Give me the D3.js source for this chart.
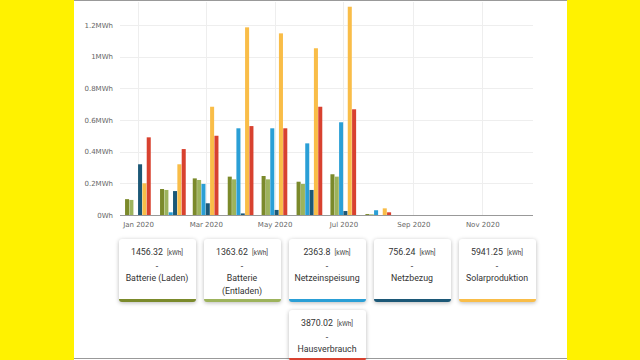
<!DOCTYPE html>
<html>
<head>
<meta charset="utf-8">
<script src="https://cdn.jsdelivr.net/npm/d3@7"></script>
<style>
    body { margin: 0; width: 640px; height: 360px; background: #fff200; overflow: hidden; font-family: Roboto, sans-serif; }
    #panel { position: absolute; left: 74px; top: 0; width: 493px; height: 360px; background: #fff; }
    #chart { position: absolute; left: 0; top: 0; }
    #cards { position: absolute; left: 118px; top: 239px; width: 418px; display: flex; flex-wrap: wrap; justify-content: center; gap: 8px 8px; }
    .card { box-sizing: border-box; width: 77px; padding: 7px 5px 2px; background: #fff; border-radius: 3px;
        box-shadow: 0 1px 4px rgba(0, 0, 0, 0.28); text-align: center; color: #333; font-size: 8.8px; line-height: 12.5px; }
    .card .unit { font-size: 6.5px; margin-left: 4px; color: #444; }
</style>
</head>
<body>
<div id="panel"></div>
<svg id="chart" width="640" height="360"></svg>
<div id="cards"></div>
<script>
    // monthly energy per series, kWh
    const months = ["2020-01", "2020-02", "2020-03", "2020-04", "2020-05", "2020-06", "2020-07", "2020-08"];
    const seriesNames = ["Batterie (Laden)", "Batterie (Entladen)", "Netzeinspeisung", "Netzbezug", "Solarproduktion", "Hausverbrauch"];
    const seriesColors = ["#7b8a2b", "#9db35c", "#2a9fd6", "#1c5877", "#f9bd48", "#d8412f"];
    const batterieLaden = [100, 164, 231, 242, 246, 210, 257, 6];
    const batterieEntladen = [95, 158, 221, 225, 225, 196, 242, 4];
    const netzeinspeisung = [0, 17, 196, 547, 547, 452, 585, 30];
    const netzbezug = [320, 151, 74, 10, 32, 158, 25, 0];
    const solarproduktion = [200, 320, 683, 1184, 1146, 1052, 1314, 42];
    const hausverbrauch = [490, 416, 500, 561, 547, 683, 667, 17];
    const totals = ["1456.32", "1363.62", "2363.8", "756.24", "5941.25", "3870.02"];
    const yTicks = [0, 200, 400, 600, 800, 1000, 1200];
    const yTickLabels = ["0Wh", "0.2MWh", "0.4MWh", "0.6MWh", "0.8MWh", "1MWh", "1.2MWh"];

    const values = [batterieLaden, batterieEntladen, netzeinspeisung, netzbezug, solarproduktion, hausverbrauch];
    const parse = d3.timeParse("%Y-%m");

    const plotLeft = 120, plotRight = 533, plotBottom = 215, plotTop = 2;
    const svg = d3.select("#chart");

    // frame lines of the screen capture
    svg.append("line").attr("x1", 74).attr("x2", 567).attr("y1", 0.5).attr("y2", 0.5).attr("stroke", "#999");
    svg.append("line").attr("x1", 74).attr("x2", 567).attr("y1", 358.5).attr("y2", 358.5).attr("stroke", "#999");

    const x = d3.scaleTime()
        .domain([new Date(2019, 11, 16), new Date(2020, 11, 16)])
        .range([plotLeft, plotRight]);
    const y = d3.scaleLinear()
        .domain([0, 1330])
        .range([plotBottom, plotBottom - 1330 * 0.1585]);
    const inner = d3.scaleBand()
        .domain(seriesNames)
        .range([-13, 13]);

    // grid
    svg.append("g")
        .selectAll("line")
        .data(yTicks.slice(1))
        .join("line")
        .attr("x1", plotLeft).attr("x2", plotRight)
        .attr("y1", d => Math.round(y(d)) + 0.5).attr("y2", d => Math.round(y(d)) + 0.5)
        .attr("stroke", "#eeeeee");
    const xTicks = x.ticks(d3.timeMonth.every(2));
    svg.append("g")
        .selectAll("line")
        .data(xTicks)
        .join("line")
        .attr("x1", d => Math.round(x(d)) + 0.5).attr("x2", d => Math.round(x(d)) + 0.5)
        .attr("y1", plotTop).attr("y2", plotBottom)
        .attr("stroke", "#eeeeee");

    // bars
    seriesNames.forEach((name, s) => {
        svg.append("g")
            .attr("fill", seriesColors[s])
            .selectAll("rect")
            .data(values[s])
            .join("rect")
            .attr("x", (d, i) => x(parse(months[i])) + inner(name))
            .attr("width", inner.bandwidth() - 0.3)
            .attr("y", d => y(d))
            .attr("height", d => plotBottom - y(d));
    });

    // axes
    const xAxis = d3.axisBottom(x)
        .tickValues(xTicks)
        .tickFormat(d3.timeFormat("%b %Y"))
        .tickSize(0)
        .tickPadding(7);
    svg.append("g")
        .attr("transform", `translate(0,${plotBottom})`)
        .call(xAxis)
        .call(g => g.select(".domain").attr("stroke", "#999").attr("d", `M${plotLeft},0.5H${plotRight}`))
        .selectAll("text")
        .attr("fill", "#666")
        .style("font-family", "DejaVu Sans")
        .style("font-size", "7px");

    const yAxis = d3.axisLeft(y)
        .tickValues(yTicks)
        .tickFormat((d, i) => yTickLabels[i])
        .tickSize(0)
        .tickPadding(7);
    svg.append("g")
        .attr("transform", `translate(${plotLeft},0)`)
        .call(yAxis)
        .call(g => g.select(".domain").remove())
        .selectAll("text")
        .attr("fill", "#666")
        .style("font-family", "DejaVu Sans")
        .style("font-size", "7px");

    // summary cards
    const cards = d3.select("#cards")
        .selectAll("div")
        .data(seriesNames)
        .join("div")
        .attr("class", "card")
        .style("border-bottom", (d, i) => `3px solid ${seriesColors[i]}`);
    cards.append("div")
        .html((d, i) => `${totals[i]}<span class="unit">[kWh]</span>`);
    cards.append("div").text("-");
    cards.append("div").text(d => d);
</script>
</body>
</html>
